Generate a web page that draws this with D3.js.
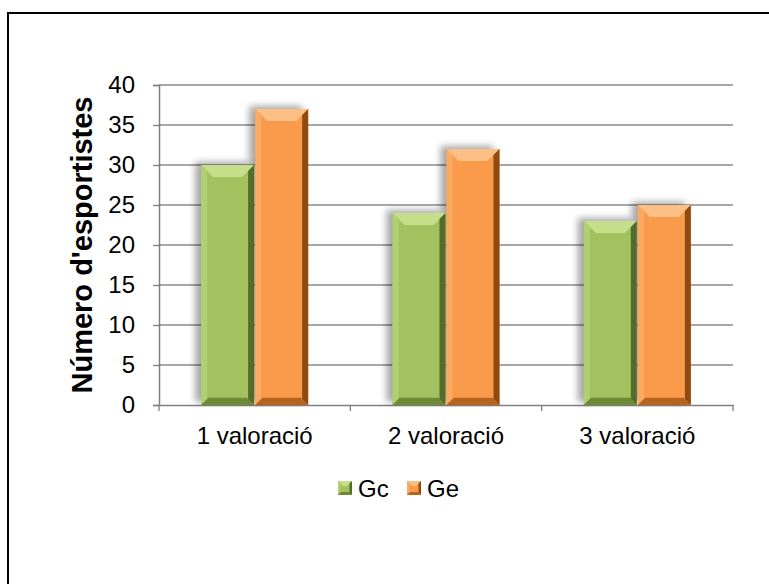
<!DOCTYPE html>
<html>
<head>
<meta charset="utf-8">
<script src="https://cdn.jsdelivr.net/npm/d3@7"></script>
<style>
  body { margin: 0; background: #fff; }
  svg { display: block; font-family: "Liberation Sans", Arial, sans-serif; }
</style>
</head>
<body>
<svg id="chart" width="769" height="584"></svg>
<script>
const categories = ["1 valoració", "2 valoració", "3 valoració"];
const seriesNames = ["Gc", "Ge"];
const gcValues = [30, 24, 23];
const geValues = [37, 32, 25];
const yTicks = [0, 5, 10, 15, 20, 25, 30, 35, 40];

// bevel palette per series
const palettes = {
  Gc: { face: "#a2c25f", top: "#c6de8a", left: "#b1cf70", right: "#556b2a", bottom: "#6e8a36" },
  Ge: { face: "#fa9b4b", top: "#fcc087", left: "#fbaa64", right: "#8f4a12", bottom: "#b7641f" }
};

const svg = d3.select("#chart");
const margin = { left: 159, right: 36, top: 85, bottom: 179 };
const W = 769, H = 584;
const FONT = "Liberation Sans, Arial, sans-serif";

// outer frame (only top/left edges visible)
svg.append("rect")
  .attr("x", 8).attr("y", 13)
  .attr("width", 800).attr("height", 600)
  .attr("fill", "none").attr("stroke", "#000").attr("stroke-width", 2);

const defs = svg.append("defs");
const f = defs.append("filter").attr("id", "shadow")
  .attr("x", "-30%").attr("y", "-30%").attr("width", "160%").attr("height", "160%");
f.append("feGaussianBlur").attr("in", "SourceAlpha").attr("stdDeviation", 3.5);
f.append("feOffset").attr("dx", -6).attr("dy", -3).attr("result", "b");
f.append("feComponentTransfer").append("feFuncA").attr("type", "linear").attr("slope", 0.35);

const x = d3.scaleBand().domain(categories)
  .range([margin.left, W - margin.right]);
const xs = d3.scaleBand().domain(seriesNames)
  .range([0, x.bandwidth()]).paddingOuter(0.78).paddingInner(0.02);
const y = d3.scaleLinear().domain([0, 40]).range([H - margin.bottom, margin.top]);

// gridlines
svg.append("g").selectAll("line").data(yTicks.slice(1)).join("line")
  .attr("x1", margin.left).attr("x2", W - margin.right)
  .attr("y1", d => y(d)).attr("y2", d => y(d))
  .attr("stroke", "#8a8a8a").attr("stroke-width", 1.3);

// y axis
const yAxis = svg.append("g").attr("transform", `translate(${margin.left},0)`)
  .call(d3.axisLeft(y).tickValues(yTicks).tickSize(6).tickPadding(18));
yAxis.attr("font-size", 24).attr("font-family", FONT);
yAxis.select(".domain").attr("stroke", "#808080").attr("stroke-width", 1.5);
yAxis.selectAll(".tick line").attr("stroke", "#808080").attr("stroke-width", 1.3);
yAxis.selectAll("text").attr("fill", "#000");

// x axis
const xAxis = svg.append("g").attr("transform", `translate(0,${y(0)})`)
  .call(d3.axisBottom(x).tickSize(0).tickPadding(22));
xAxis.attr("font-size", 24).attr("font-family", FONT);
xAxis.select(".domain").attr("stroke", "#808080").attr("stroke-width", 1.5);
xAxis.selectAll("text").attr("fill", "#000");
svg.append("g").selectAll("line")
  .data([0, 1, 2, 3]).join("line")
  .attr("x1", i => margin.left + i * x.step()).attr("x2", i => margin.left + i * x.step())
  .attr("y1", y(0)).attr("y2", y(0) + 6)
  .attr("stroke", "#808080").attr("stroke-width", 1.3);

// bars
const rows = [];
categories.forEach((c, i) => {
  rows.push({ cat: c, key: "Gc", value: gcValues[i] });
  rows.push({ cat: c, key: "Ge", value: geValues[i] });
});

function bevel(g, bx, by, bw, bh, p, b) {
  g.append("rect").attr("x", bx).attr("y", by).attr("width", bw).attr("height", bh).attr("fill", p.face);
  const poly = (pts, fill) => g.append("polygon").attr("points", pts.map(q => q.join(",")).join(" ")).attr("fill", fill);
  poly([[bx, by], [bx + bw, by], [bx + bw - b, by + b], [bx + b, by + b]], p.top);
  poly([[bx, by], [bx + b * 0.5, by + b * 0.5], [bx + b * 0.5, by + bh - b * 0.5], [bx, by + bh]], p.left);
  poly([[bx + bw, by], [bx + bw, by + bh], [bx + bw - b * 0.5, by + bh - b * 0.5], [bx + bw - b * 0.5, by + b * 0.5]], p.right);
  poly([[bx, by + bh], [bx + bw, by + bh], [bx + bw - b * 0.6, by + bh - b * 0.6], [bx + b * 0.6, by + bh - b * 0.6]], p.bottom);
}

const barLayer = svg.append("g");
// shadows first
barLayer.selectAll("rect.sh").data(rows).join("rect")
  .attr("class", "sh")
  .attr("x", d => x(d.cat) + xs(d.key))
  .attr("y", d => y(d.value))
  .attr("width", xs.bandwidth())
  .attr("height", d => y(0) - y(d.value))
  .attr("filter", "url(#shadow)");

rows.forEach(d => {
  const g = barLayer.append("g");
  bevel(g, x(d.cat) + xs(d.key), y(d.value), xs.bandwidth(), y(0) - y(d.value), palettes[d.key], 12);
});

// y title
svg.append("text")
  .attr("transform", `translate(92,${(y(0) + y(40)) / 2}) rotate(-90)`)
  .attr("text-anchor", "middle")
  .attr("font-size", 29).attr("font-weight", "bold")
  .text("Número d'esportistes");

// legend
const legendItems = [{ key: "Gc", x: 338 }, { key: "Ge", x: 407 }];
const lg = svg.append("g");
legendItems.forEach(it => {
  const g = lg.append("g");
  bevel(g, it.x, 481, 14, 14, palettes[it.key], 5);
  g.append("text").attr("x", it.x + 20).attr("y", 497)
    .attr("font-size", 24).text(it.key);
});
</script>
</body>
</html>
